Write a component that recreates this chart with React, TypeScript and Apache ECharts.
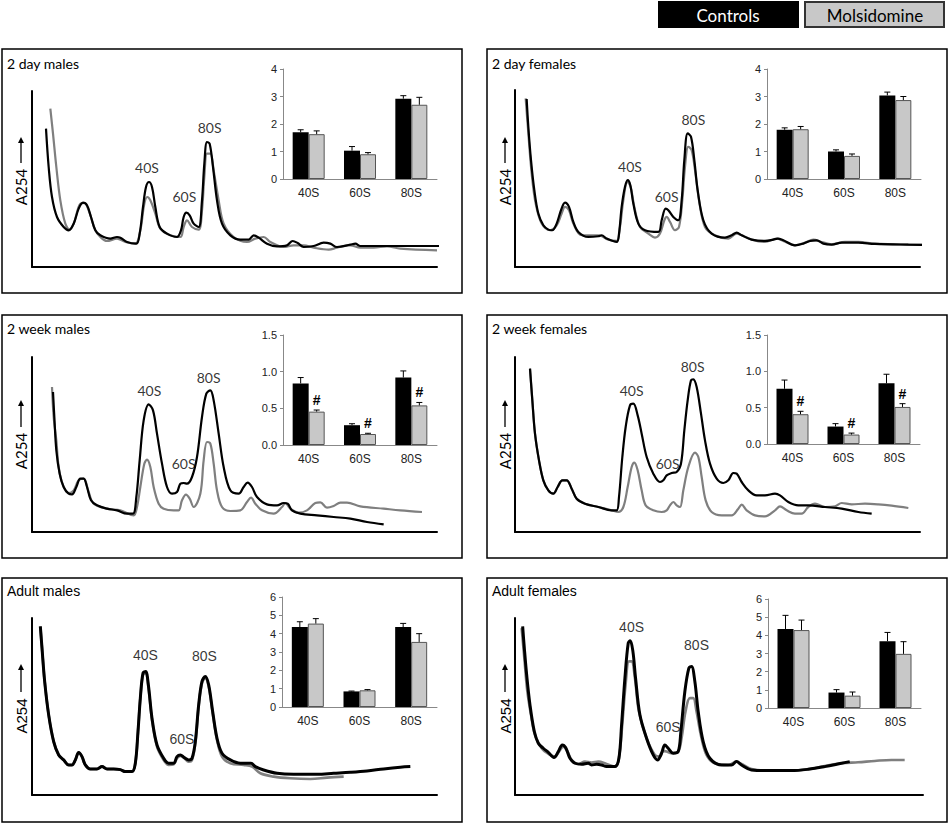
import React, { useEffect, useRef } from "react";
import * as echarts from "echarts";

// ---------- data ----------
const categories = ["40S", "60S", "80S"];
const groupNames = ["Controls", "Molsidomine"];
const titles = ["2 day males", "2 day females", "2 week males", "2 week females", "Adult males", "Adult females"];
const yAxisTitle = "A254";

// inset bar values (mean and top of error bar)
const ctl2dM = [1.7, 1.03, 2.92];
const ctl2dMErr = [1.79, 1.18, 3.03];
const mol2dM = [1.63, 0.9, 2.7];
const mol2dMErr = [1.75, 0.96, 2.97];

const ctl2dF = [1.79, 1.0, 3.04];
const ctl2dFErr = [1.86, 1.06, 3.16];
const mol2dF = [1.81, 0.84, 2.87];
const mol2dFErr = [1.91, 0.91, 3.0];

const ctl2wM = [0.84, 0.27, 0.92];
const ctl2wMErr = [0.92, 0.29, 1.01];
const mol2wM = [0.455, 0.15, 0.54];
const mol2wMErr = [0.477, 0.16, 0.58];

const ctl2wF = [0.76, 0.24, 0.835];
const ctl2wFErr = [0.88, 0.28, 0.96];
const mol2wF = [0.41, 0.13, 0.51];
const mol2wFErr = [0.45, 0.15, 0.555];

const ctlAdM = [4.36, 0.85, 4.36];
const ctlAdMErr = [4.65, 0.87, 4.56];
const molAdM = [4.55, 0.91, 3.55];
const molAdMErr = [4.82, 0.95, 4.0];

const ctlAdF = [4.35, 0.85, 3.68];
const ctlAdFErr = [5.1, 1.01, 4.16];
const molAdF = [4.29, 0.68, 2.98];
const molAdFErr = [4.84, 0.88, 3.65];

const sig2w = ["#", "#", "#"];
const sigNone = ["", "", ""];

const insetMax = [4, 4, 1.5, 1.5, 6, 6];
const insetStep = [1, 1, 0.5, 0.5, 1, 1];

// A254 profiles: [fraction position, absorbance] (arbitrary units)
const ctlProf2dM = [[42,415],[50,300],[60,210],[75,150],[95,120],[110,110],[125,130],[140,175],[153,193],[165,185],[177,150],[190,110],[205,95],[235,85],[255,90],[265,88],[285,75],[313,70],[323,100],[333,180],[342,240],[351,255],[360,240],[370,180],[383,120],[405,100],[435,90],[447,110],[455,150],[463,163],[473,155],[485,130],[500,120],[510,200],[517,310],[525,375],[533,370],[543,300],[555,200],[570,130],[595,95],[625,82],[650,82],[665,95],[680,88],[705,70],[735,62],[765,65],[782,78],[797,72],[815,60],[845,63],[875,73],[895,70],[915,60],[955,67],[970,70],[985,63],[1025,63],[1105,63],[1225,63]];
const molProf2dM = [[55,475],[63,400],[73,300],[85,200],[100,130],[113,112],[125,130],[145,190],[157,192],[170,170],[190,110],[205,90],[225,78],[255,85],[280,75],[310,70],[325,110],[337,190],[346,210],[355,200],[370,160],[385,115],[415,95],[445,90],[455,120],[465,140],[480,120],[500,112],[510,170],[517,270],[525,340],[535,340],[545,290],[560,200],[575,130],[605,90],[645,75],[670,85],[695,90],[715,75],[755,60],[785,65],[815,65],[845,58],[890,52],[915,58],[955,65],[985,58],[1025,58],[1065,62],[1105,55],[1215,50]];

const ctlProf2dF = [[35,503],[40,420],[48,320],[58,230],[70,160],[85,125],[100,112],[112,110],[125,130],[138,170],[150,193],[162,180],[175,135],[190,105],[220,90],[250,92],[260,95],[275,85],[305,75],[312,100],[320,180],[330,240],[338,260],[346,245],[355,190],[370,130],[390,110],[430,105],[440,140],[452,175],[460,170],[475,150],[490,140],[500,200],[508,320],[518,400],[528,390],[538,320],[548,230],[565,140],[590,100],[630,88],[650,95],[665,103],[680,95],[710,82],[750,78],[775,82],[788,85],[805,80],[840,65],[865,70],[885,78],[905,80],[925,70],[950,67],[980,73],[1030,73],[1080,69],[1180,67],[1285,66]];
const molProf2dF = [[32,505],[40,400],[50,280],[62,190],[80,130],[105,110],[125,125],[140,160],[150,180],[162,170],[175,130],[200,95],[250,95],[280,82],[305,78],[315,120],[325,200],[337,255],[347,240],[358,180],[375,120],[400,100],[420,88],[435,100],[448,140],[455,150],[465,135],[480,110],[492,120],[502,200],[510,300],[520,360],[530,350],[540,290],[552,200],[570,120],[600,95],[640,85],[665,100],[680,95],[710,82],[750,75],[785,85],[805,78],[840,65],[870,73],[895,82],[920,75],[950,68],[990,75],[1030,75],[1080,70],[1180,67],[1285,66]];

const ctlProf2wM = [[63,420],[67,345],[73,245],[83,175],[95,135],[110,115],[120,113],[133,135],[145,160],[155,160],[165,135],[177,95],[195,80],[225,70],[255,65],[285,55],[303,55],[313,105],[323,215],[335,335],[350,383],[363,365],[375,295],[390,205],[405,135],[420,115],[435,120],[445,145],[455,147],[465,145],[480,165],[495,225],[510,345],[523,415],[535,425],[545,395],[560,295],[575,195],[595,125],[620,115],[635,135],[647,148],[660,135],[675,105],[705,83],[735,80],[755,87],[767,85],[780,65],[805,55],[855,50],[905,45],[955,40],[1005,30],[1055,23]];
const molProf2wM = [[60,435],[65,345],[73,275],[80,195],[93,140],[110,117],[125,125],[140,155],[155,160],[170,120],[185,85],[225,70],[265,65],[305,50],[315,75],[325,135],[337,205],[345,217],[355,195],[365,135],[380,85],[395,70],[425,65],[440,65],[450,95],[462,112],[473,100],[485,75],[505,115],[515,215],[525,270],[535,265],[545,205],[555,125],[570,75],[595,63],[625,65],[645,90],[657,103],[670,85],[690,65],[725,55],[750,75],[760,87],[775,70],[800,58],[825,65],[850,87],[865,89],[885,73],[905,78],[925,88],[945,88],[985,77],[1055,70],[1105,65],[1170,60]];

const ctlProf2wF = [[45,490],[52,395],[60,295],[72,215],[85,155],[100,125],[115,115],[128,135],[142,155],[155,155],[170,130],[185,100],[210,85],[250,75],[290,65],[305,65],[312,105],[322,225],[332,315],[345,380],[355,385],[368,350],[380,295],[395,225],[415,175],[435,150],[445,155],[455,170],[470,177],[485,180],[498,205],[508,305],[518,395],[528,455],[535,458],[545,435],[558,355],[570,275],[585,205],[605,160],[625,147],[640,155],[655,177],[665,175],[680,150],[700,125],[725,110],[750,110],[780,115],[795,110],[820,90],[850,80],[880,80],[930,75],[980,70],[1030,60],[1070,55]];
const molProf2wF = [[45,490],[52,395],[60,295],[72,215],[85,155],[100,125],[115,115],[128,135],[142,155],[155,155],[170,130],[185,100],[210,85],[250,75],[290,65],[310,60],[325,75],[338,135],[350,195],[358,208],[368,185],[380,125],[392,80],[415,65],[440,60],[455,65],[465,80],[475,90],[485,80],[495,75],[505,125],[520,195],[540,238],[550,225],[560,165],[572,95],[590,60],[620,50],[650,50],[670,70],[680,82],[695,65],[720,50],[750,47],[780,65],[795,77],[815,65],[840,55],[860,55],[880,75],[900,85],[930,75],[960,77],[980,87],[1010,83],[1050,85],[1090,83],[1130,79],[1180,72]];

const ctlProfAdM = [[25,505],[30,440],[38,340],[50,240],[65,160],[80,120],[95,105],[110,90],[120,90],[130,105],[140,127],[150,115],[160,90],[175,78],[195,78],[210,85],[225,78],[245,78],[265,76],[280,70],[300,70],[310,95],[318,190],[325,290],[333,365],[341,370],[349,330],[360,230],[375,150],[395,110],[410,95],[425,95],[435,115],[445,120],[457,112],[470,105],[480,110],[490,160],[500,270],[510,340],[520,355],[530,330],[542,250],[555,170],[570,125],[595,105],[625,95],[657,95],[670,85],[695,75],[735,65],[785,62],[855,62],[905,65],[955,68],[1005,72],[1055,78],[1105,83],[1135,85]];
const molProfAdM = [[25,505],[30,440],[38,340],[50,240],[65,160],[80,120],[95,105],[110,90],[120,90],[130,105],[140,127],[150,115],[160,90],[175,78],[195,78],[210,85],[225,78],[245,78],[265,76],[280,70],[300,70],[310,95],[318,190],[325,290],[333,360],[341,365],[349,325],[360,225],[375,145],[395,105],[410,90],[425,92],[435,110],[445,117],[457,110],[470,100],[480,105],[490,155],[500,265],[510,335],[520,350],[530,325],[542,245],[555,165],[570,115],[595,95],[635,90],[660,85],[685,65],[725,55],[775,50],[835,48],[885,52],[935,55]];

const ctlProfAdF = [[23,505],[28,440],[35,360],[45,270],[58,190],[70,155],[85,140],[100,128],[117,112],[130,130],[142,150],[152,142],[165,110],[180,95],[200,92],[220,95],[230,90],[245,92],[260,90],[275,85],[300,85],[312,110],[320,210],[330,350],[340,455],[346,462],[354,430],[362,350],[375,240],[395,170],[415,120],[428,105],[440,125],[450,150],[460,140],[475,125],[490,130],[498,190],[510,310],[522,380],[530,385],[540,340],[550,250],[565,160],[585,110],[620,90],[650,90],[665,100],[680,90],[710,75],[760,73],[830,73],[880,77],[930,85],[980,95],[1005,100]];
const molProfAdF = [[20,500],[28,410],[37,310],[48,240],[60,180],[80,140],[105,120],[120,115],[132,130],[145,145],[158,130],[170,105],[190,93],[210,100],[230,97],[250,100],[275,93],[300,85],[312,110],[322,210],[332,330],[342,400],[350,400],[360,350],[372,250],[395,170],[420,120],[435,115],[445,132],[455,130],[470,125],[490,130],[500,170],[512,250],[525,290],[535,290],[545,250],[558,180],[575,120],[600,95],[640,90],[665,100],[680,93],[710,78],[760,73],[830,73],[880,77],[930,87],[980,95],[1030,98],[1080,102],[1130,105],[1170,105]];

// peak label anchors (same units as the profiles)
const peaks2dM = [[345,300],[457,212],[533,420]];
const peaks2dF = [[345,302],[455,212],[535,443]];
const peaks2wM = [[352,425],[455,205],[530,463]];
const peaks2wF = [[350,425],[458,205],[533,497]];
const peaksAdM = [[340,418],[450,168],[517,415]];
const peaksAdF = [[350,503],[460,203],[545,450]];

const profMax = [[1215,528],[1215,530],[1215,525],[1215,525],[1215,530],[1225,530]];

const ctlBars = [ctl2dM, ctl2dF, ctl2wM, ctl2wF, ctlAdM, ctlAdF];
const ctlErrs = [ctl2dMErr, ctl2dFErr, ctl2wMErr, ctl2wFErr, ctlAdMErr, ctlAdFErr];
const molBars = [mol2dM, mol2dF, mol2wM, mol2wF, molAdM, molAdF];
const molErrs = [mol2dMErr, mol2dFErr, mol2wMErr, mol2wFErr, molAdMErr, molAdFErr];
const sigs = [sigNone, sigNone, sig2w, sig2w, sigNone, sigNone];
const ctlProfiles = [ctlProf2dM, ctlProf2dF, ctlProf2wM, ctlProf2wF, ctlProfAdM, ctlProfAdF];
const molProfiles = [molProf2dM, molProf2dF, molProf2wM, molProf2wF, molProfAdM, molProfAdF];
const peaks = [peaks2dM, peaks2dF, peaks2wM, peaks2wF, peaksAdM, peaksAdF];

// ---------- layout ----------
const boxes = [[2,49,460,244],[487,49,460,244],[2,315,460,243],[487,315,460,243],[2,578,460,244],[487,578,460,244]];
const titlePos = [[7,63],[492,63],[7,328],[492,328],[7,591],[492,591]];
const profGrid = [[32,91,405,176],[515,90,405,177],[32,357,405,175],[515,357,405,175],[32,618,405,177],[515,618,408,177]];
const insetGrid = [[283,69,154,110],[767,69,154,110],[283,335,154,110],[767,335,153,109],[282,597,155,110],[768,599,153,109]];
// y-title: [x, text centre y, arrow bottom y, arrow tip y]
const yTitlePos = [[21,187,163,137],[505,187,163,137],[21,451,427,400],[505,451,427,400],[21,716,692,664],[505,716,692,664]];
const CAL = "Lato, 'Open Sans', sans-serif";
const ARI = "'Liberation Sans', Arial, sans-serif";
const panelFont = [CAL, CAL, CAL, CAL, ARI, ARI];

function buildOption() {
  const grid: any[] = [];
  const xAxis: any[] = [];
  const yAxis: any[] = [];
  const series: any[] = [];
  const graphic: any[] = [];

  // legend
  graphic.push({ type: "rect", shape: { x: 658, y: 1, width: 141, height: 27 }, style: { fill: "#000" } });
  graphic.push({ type: "text", x: 728, y: 15, style: { text: groupNames[0], fill: "#fff", font: `17px ${CAL}`, align: "center", verticalAlign: "middle" } });
  graphic.push({ type: "rect", shape: { x: 805, y: 2, width: 139, height: 25 }, style: { fill: "#c8c8c8", stroke: "#333", lineWidth: 2 } });
  graphic.push({ type: "text", x: 875, y: 15, style: { text: groupNames[1], fill: "#000", font: `17px ${CAL}`, align: "center", verticalAlign: "middle" } });

  for (let p = 0; p < 6; p++) {
    const b = boxes[p];
    graphic.push({ type: "rect", shape: { x: b[0], y: b[1], width: b[2], height: b[3] }, style: { fill: "none", stroke: "#000", lineWidth: 1.5 } });
    graphic.push({ type: "text", x: titlePos[p][0], y: titlePos[p][1], style: { text: titles[p], fill: "#000", font: `14px ${panelFont[p]}`, align: "left", verticalAlign: "middle" } });

    // y-axis title with upward arrow
    const yt = yTitlePos[p];
    graphic.push({ type: "text", x: yt[0], y: yt[1], rotation: Math.PI / 2, style: { text: yAxisTitle, fill: "#000", font: `15px ${panelFont[p]}`, align: "center", verticalAlign: "middle" } });
    graphic.push({ type: "line", shape: { x1: yt[0], y1: yt[2], x2: yt[0], y2: yt[3] + 4 }, style: { stroke: "#000", lineWidth: 1.3 } });
    graphic.push({ type: "polygon", shape: { points: [[yt[0] - 3, yt[3] + 6], [yt[0] + 3, yt[3] + 6], [yt[0], yt[3]]] }, style: { fill: "#000" } });

    // profile grid
    const g = profGrid[p];
    const gi = grid.length;
    grid.push({ left: g[0], top: g[1], width: g[2], height: g[3] });
    xAxis.push({
      type: "value", gridIndex: gi, min: 0, max: profMax[p][0],
      axisLine: { show: true, lineStyle: { color: "#000", width: 2 } },
      axisTick: { show: false }, axisLabel: { show: false }, splitLine: { show: false },
    });
    yAxis.push({
      type: "value", gridIndex: gi, min: 0, max: profMax[p][1],
      axisLine: { show: true, lineStyle: { color: "#000", width: 2 } },
      axisTick: { show: false }, axisLabel: { show: false }, splitLine: { show: false },
    });
    const thick = p >= 4 ? 3 : 2.2;
    series.push({
      type: "line", name: groupNames[1], xAxisIndex: gi, yAxisIndex: gi, data: molProfiles[p],
      showSymbol: false, smooth: 0.35, clip: false,
      lineStyle: { color: "#7f7f7f", width: p >= 4 ? 2.6 : 2.2 }, z: 3,
    });
    series.push({
      type: "line", name: groupNames[0], xAxisIndex: gi, yAxisIndex: gi, data: ctlProfiles[p],
      showSymbol: false, smooth: 0.35, clip: false,
      lineStyle: { color: "#000", width: thick }, z: 4,
    });
    series.push({
      type: "scatter", xAxisIndex: gi, yAxisIndex: gi, symbolSize: 1, silent: true,
      itemStyle: { color: "rgba(0,0,0,0)" },
      data: peaks[p].map((pt, i) => ({ value: pt, name: categories[i] })),
      label: { show: true, position: "inside", formatter: "{b}", fontFamily: panelFont[p], fontSize: 14, color: "#000" },
      z: 6,
    });

    // inset bar chart
    const ig = insetGrid[p];
    const ii = grid.length;
    grid.push({ left: ig[0], top: ig[1], width: ig[2], height: ig[3] });
    xAxis.push({
      type: "category", gridIndex: ii, data: categories,
      axisLine: { show: true, lineStyle: { color: "#888", width: 1 } },
      axisTick: { show: false },
      axisLabel: { fontFamily: ARI, fontSize: 12, color: "#222", margin: 8 },
    });
    yAxis.push({
      type: "value", gridIndex: ii, min: 0, max: insetMax[p], interval: insetStep[p],
      axisLine: { show: true, lineStyle: { color: "#888", width: 1 } },
      axisTick: { show: true, length: 3, lineStyle: { color: "#888" } },
      axisLabel: {
        fontFamily: ARI, fontSize: 11, color: "#222", margin: 6,
        formatter: (v: number) => (insetStep[p] < 1 ? v.toFixed(1) : String(v)),
      },
      splitLine: { show: false },
    });
    series.push({
      type: "bar", name: groupNames[0], xAxisIndex: ii, yAxisIndex: ii, data: ctlBars[p],
      barWidth: 16, barGap: "0%", itemStyle: { color: "#000" }, z: 3,
    });
    series.push({
      type: "bar", name: groupNames[1], xAxisIndex: ii, yAxisIndex: ii, data: molBars[p],
      barWidth: 16, barGap: "0%", itemStyle: { color: "#c8c8c8", borderColor: "#555", borderWidth: 1 }, z: 3,
    });
    const mkErr = (vals: number[], tops: number[], offset: number, marks: string[]) => ({
      type: "custom", xAxisIndex: ii, yAxisIndex: ii, silent: true, z: 5,
      data: vals.map((v, i) => [i, v, tops[i]]),
      renderItem: (params: any, api: any) => {
        const c = api.value(0);
        const a = api.coord([c, api.value(1)]);
        const e = api.coord([c, api.value(2)]);
        const x = a[0] + offset;
        const children: any[] = [
          { type: "line", shape: { x1: x, y1: a[1], x2: x, y2: e[1] }, style: { stroke: "#000", lineWidth: 1 } },
          { type: "line", shape: { x1: x - 3, y1: e[1], x2: x + 3, y2: e[1] }, style: { stroke: "#000", lineWidth: 1 } },
        ];
        const m = marks[params.dataIndex];
        if (m) {
          children.push({
            type: "text", x: x, y: e[1] - 10,
            style: { text: m, fill: "#000", fontFamily: ARI, fontSize: 14, fontWeight: "bold", align: "center", verticalAlign: "middle" },
          });
        }
        return { type: "group", children };
      },
    });
    series.push(mkErr(ctlBars[p], ctlErrs[p], -8, sigNone));
    series.push(mkErr(molBars[p], molErrs[p], 8, sigs[p]));
  }

  return { animation: false, backgroundColor: "#fff", grid, xAxis, yAxis, series, graphic };
}

export default function App() {
  const ref = useRef<HTMLDivElement>(null);
  useEffect(() => {
    if (!ref.current) return;
    const chart = echarts.init(ref.current, undefined, { renderer: "svg" });
    chart.setOption(buildOption() as any);
    return () => chart.dispose();
  }, []);
  return <div ref={ref} style={{ position: "absolute", left: 0, top: 0, width: 949, height: 825 }} />;
}
